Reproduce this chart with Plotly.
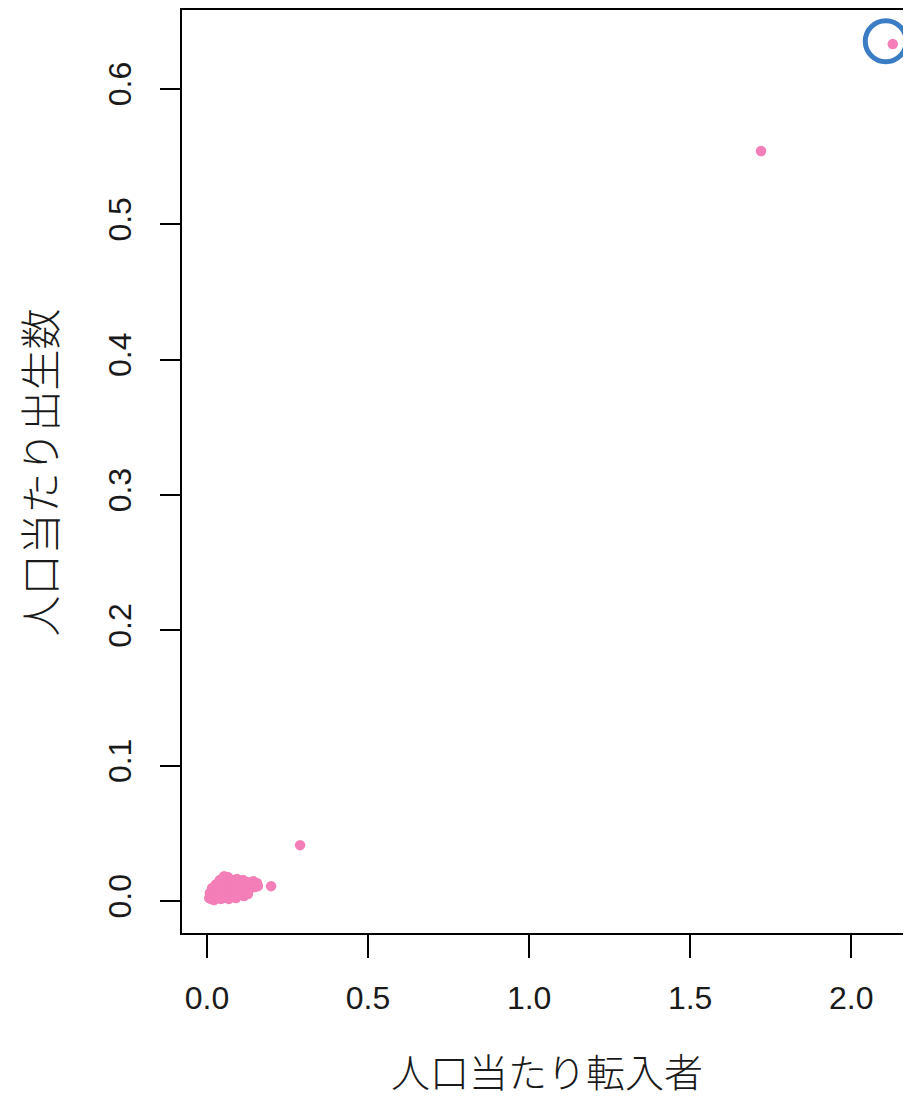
import plotly.graph_objects as go

# Per-capita in-migrants (x) and per-capita births (y)
x_vals = [0.007, 0.009, 0.016, 0.022, 0.028, 0.034, 0.037, 0.040, 0.047, 0.050,
          0.053, 0.059, 0.062, 0.065, 0.071, 0.075, 0.078, 0.084, 0.087, 0.093,
          0.096, 0.102, 0.109, 0.112, 0.118, 0.124, 0.130, 0.137, 0.143, 0.149,
          0.155, 0.158, 0.019, 0.012, 0.043, 0.068, 0.090, 0.115, 0.127,
          0.199, 0.289, 1.720, 2.129]
y_vals = [0.0022, 0.0059, 0.0096, 0.0007, 0.0125, 0.0044, 0.0081, 0.0155, 0.0111, 0.0022,
          0.0184, 0.0066, 0.0140, 0.0177, 0.0096, 0.0037, 0.0155, 0.0118, 0.0059, 0.0162,
          0.0088, 0.0125, 0.0066, 0.0155, 0.0103, 0.0140, 0.0081, 0.0125, 0.0147, 0.0103,
          0.0133, 0.0111, 0.0037, 0.0016, 0.0016, 0.0016, 0.0022, 0.0037, 0.0052,
          0.0110, 0.0413, 0.554, 0.633]

x_ticks = [0.0, 0.5, 1.0, 1.5, 2.0]
y_ticks = [0.0, 0.1, 0.2, 0.3, 0.4, 0.5, 0.6]
x_title = "人口当たり転入者"
y_title = "人口当たり出生数"
highlight = (2.129, 0.633)

fig = go.Figure()
fig.add_trace(go.Scatter(
    x=x_vals, y=y_vals, mode="markers",
    marker=dict(color="#F47EB8", size=10.5, line=dict(width=0)),
    showlegend=False, hoverinfo="skip"))

# highlight ring around the top-right point
fig.add_shape(type="circle", xref="x", yref="y",
              xsizemode="pixel", ysizemode="pixel",
              xanchor=highlight[0], yanchor=highlight[1],
              x0=-27.5, x1=13.5, y0=-17.7, y1=23.3,
              line=dict(color="#3B7DC4", width=5))

tick_font = dict(family="Liberation Sans, Arial, sans-serif", size=32, color="#1a1a1a")
title_font = dict(family="Noto Sans CJK JP", size=39, color="#1a1a1a", weight=300)

fig.update_layout(
    width=903, height=1091,
    margin=dict(l=174, r=0, t=0, b=166),
    paper_bgcolor="white", plot_bgcolor="white",
    xaxis=dict(range=[-0.0776, 2.1856], tickvals=x_ticks, tickformat=".1f",
               showgrid=False, zeroline=False, showline=True, linecolor="black",
               linewidth=2, mirror=True, ticks="outside", ticklen=23, tickwidth=2,
               tickcolor="black", tickfont=tick_font, ticklabelstandoff=13),
    yaxis=dict(range=[-0.0236, 0.6582], tickvals=y_ticks, tickformat=".1f",
               showgrid=False, zeroline=False, showline=True, linecolor="black",
               linewidth=2, ticks="outside", ticklen=20, tickwidth=2,
               tickcolor="black", tickfont=tick_font, tickangle=-90,
               ticklabelstandoff=16),
    annotations=[
        dict(text=x_title, xref="paper", yref="paper", x=0.5, y=-0.148,
             xanchor="center", yanchor="middle", showarrow=False, font=title_font),
        dict(text=y_title, xref="paper", yref="paper", x=-0.1975, y=0.499,
             xanchor="center", yanchor="middle", showarrow=False, textangle=-90,
             font=dict(family="Noto Sans CJK JP", size=41, color="#1a1a1a", weight=300)),
    ],
)

fig.write_html("out.html")
